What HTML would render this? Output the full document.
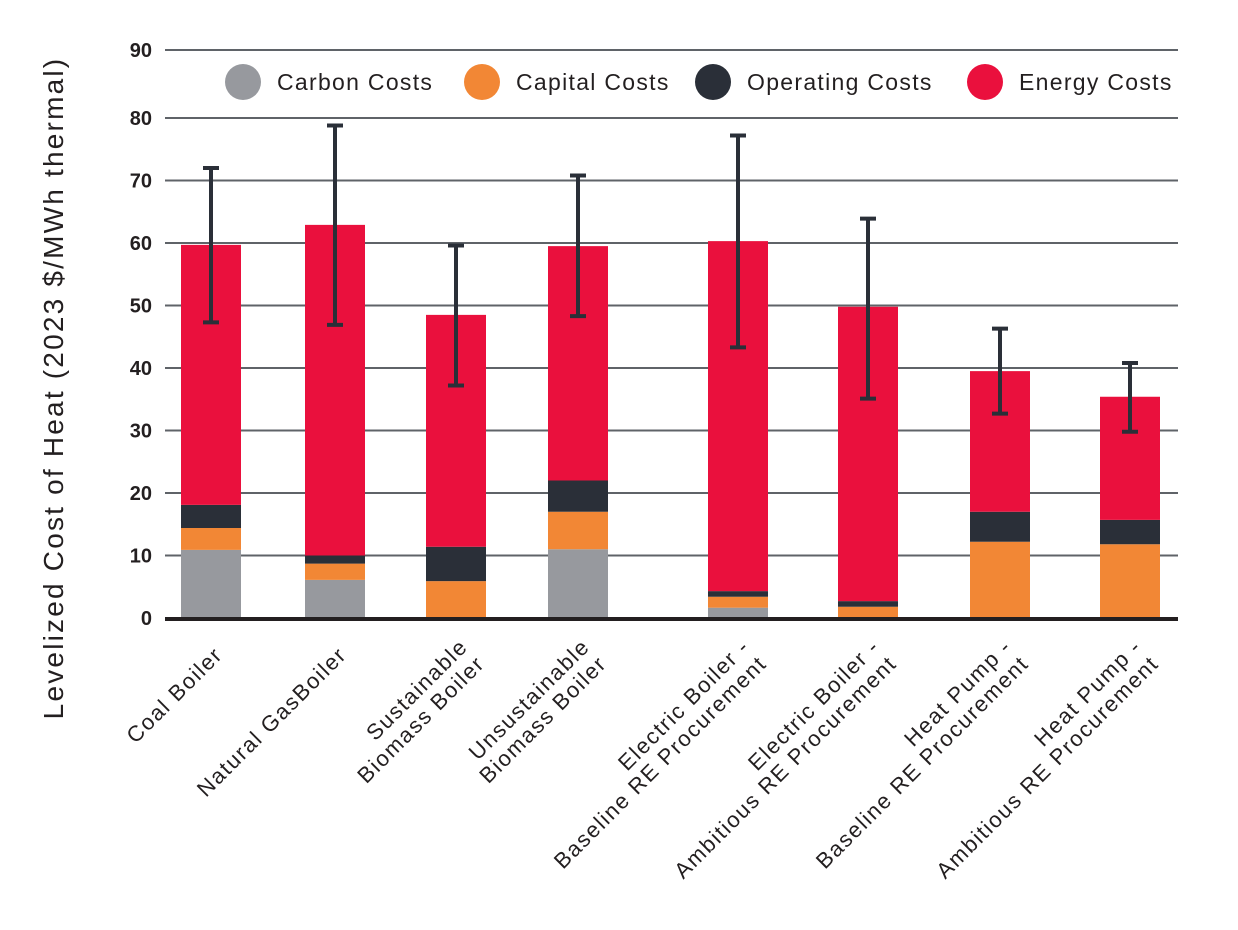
<!DOCTYPE html>
<html><head><meta charset="utf-8"><style>
html,body{margin:0;padding:0;background:#fff;}
svg{display:block;font-family:"Liberation Sans",sans-serif;}
</style></head><body>
<svg id="chart" width="1238" height="930" viewBox="0 0 1238 930" xmlns="http://www.w3.org/2000/svg">
<g id="grid"></g><g id="bars"></g><g id="errs"></g><g id="axis"></g><g id="xlabels"></g>
<text transform="translate(63,388) rotate(-90)" text-anchor="middle" font-size="28" letter-spacing="2.2" fill="#231f20">Levelized Cost of Heat (2023 $/MWh thermal)</text>
<g id="legend"></g>
</svg>
<script>
const categories = [["Coal Boiler"],["Natural GasBoiler"],["Sustainable","Biomass Boiler"],["Unsustainable","Biomass Boiler"],["Electric Boiler -","Baseline RE Procurement"],["Electric Boiler -","Ambitious RE Procurement"],["Heat Pump -","Baseline RE Procurement"],["Heat Pump -","Ambitious RE Procurement"]];
const seriesNames = ["Carbon Costs","Capital Costs","Operating Costs","Energy Costs"];
const carbon = [10.9, 6.1, 0, 11.0, 1.65, 0, 0, 0];
const capital = [3.5, 2.6, 5.9, 6.0, 1.75, 1.8, 12.2, 11.8];
const operating = [3.7, 1.3, 5.5, 5.0, 0.9, 0.9, 4.8, 3.9];
const energy = [41.6, 52.9, 37.1, 37.5, 56.0, 47.1, 22.5, 19.7];
const errHigh = [72.0, 78.8, 59.6, 70.8, 77.2, 63.9, 46.3, 40.8];
const errLow = [47.3, 46.9, 37.2, 48.3, 43.3, 35.1, 32.7, 29.8];
const yTicks = [0,10,20,30,40,50,60,70,80,90];
const colors = ["#97999e","#f28735","#2a2f38","#ea103d"];
const NS="http://www.w3.org/2000/svg";
const y = v => 618 - v*6.25;
const centers=[211,335,456,578,738,868,1000,1130];
const x = i => centers[i];
const bw=60;
function el(tag,attrs,parent){const e=document.createElementNS(NS,tag);for(const k in attrs)e.setAttribute(k,attrs[k]);parent.appendChild(e);return e;}
const grid=document.getElementById('grid');
yTicks.forEach(t=>{
  const yy = t===90?50:y(t);
  if(t>0){const l=el('line',{x1:165,x2:1178,y1:yy,y2:yy,stroke:'#5f6368','stroke-width':2},grid);
  
  }
  const tx=el('text',{x:152,y:yy+7,'text-anchor':'end','font-size':20,'font-weight':'bold',fill:'#231f20'},grid);
  tx.textContent=t;
  
  
});
const bars=document.getElementById('bars');
const series=[carbon,capital,operating,energy];
categories.forEach((c,i)=>{
  let base=0;
  series.forEach((s,k)=>{
    const v=s[i]; if(v<=0) return;
    const r=el('rect',{x:x(i)-bw/2,y:y(base+v),width:bw,height:y(base)-y(base+v),fill:colors[k]},bars);
    
    
    base+=v;
  });
});
const errs=document.getElementById('errs');
categories.forEach((c,i)=>{
  const g=el('g',{stroke:'#2a2f38','stroke-width':4},errs);
  
  
  el('line',{x1:x(i),x2:x(i),y1:y(errHigh[i]),y2:y(errLow[i])},g);
  el('line',{x1:x(i)-8,x2:x(i)+8,y1:y(errHigh[i]),y2:y(errHigh[i])},g);
  el('line',{x1:x(i)-8,x2:x(i)+8,y1:y(errLow[i]),y2:y(errLow[i])},g);
});
const ax=el('line',{x1:165,x2:1178,y1:619,y2:619,stroke:'#231f20','stroke-width':4},document.getElementById('axis'));


const xl=document.getElementById('xlabels');
categories.forEach((c,i)=>{
  const px = x(i)+13;
  const py = c.length===1 ? 656 : 648;
  const t=el('text',{transform:`translate(${px},${py}) rotate(-45)`,'text-anchor':'end','font-size':22,'letter-spacing':1.6,fill:'#231f20'},xl);
  
  
  c.forEach((line,j)=>{const ts=el('tspan',{x:0,y:j*24},t);ts.textContent=line;});
});
const lg=document.getElementById('legend');
const lx=[243,482,713,985];
seriesNames.forEach((n,k)=>{
  const g=el('g',{},lg);
  
  
  el('circle',{cx:lx[k],cy:82,r:18,fill:colors[k]},g);
  const t=el('text',{x:lx[k]+34,y:90,'font-size':23,'letter-spacing':1.3,fill:'#231f20'},g);
  t.textContent=n;
});
</script>
</body></html>
